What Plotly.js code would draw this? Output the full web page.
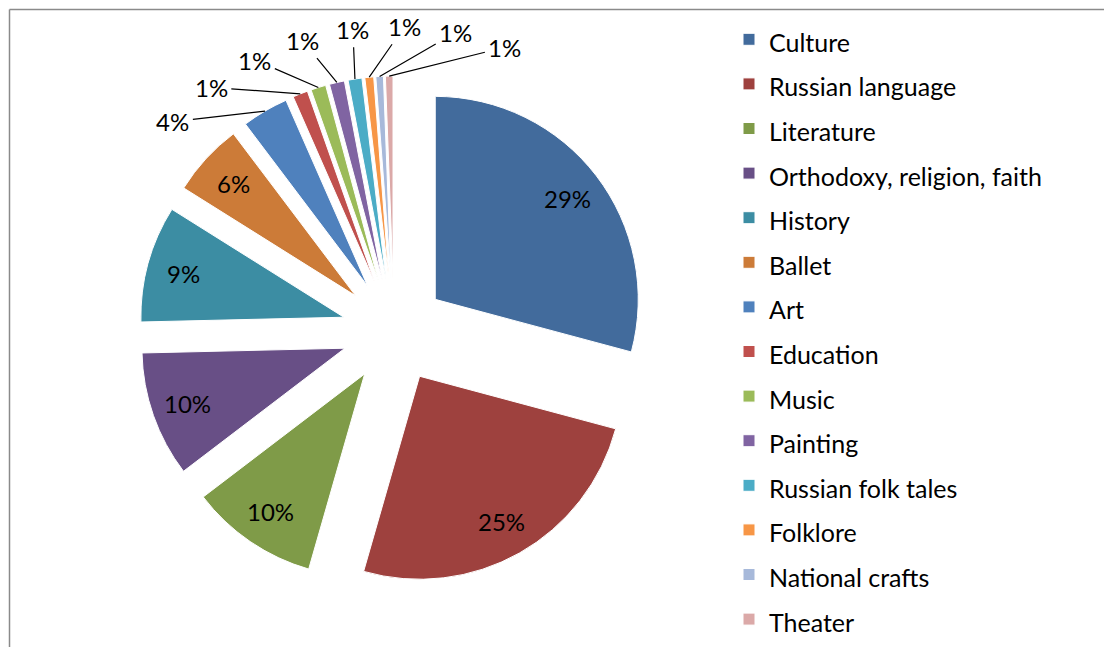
<!DOCTYPE html>
<html>
<head>
<meta charset="utf-8">
<script src="https://cdn.plot.ly/plotly-3.0.1.min.js"></script>
<style>
  html, body { margin: 0; padding: 0; background: #fff; }
  #chart { width: 1105px; height: 647px; }
</style>
</head>
<body>
<div id="chart"></div>
<script>
const categories = ["Culture", "Russian language", "Literature", "Orthodoxy, religion, faith", "History", "Ballet", "Art", "Education", "Music", "Painting", "Russian folk tales", "Folklore", "National crafts", "Theater"];
const values = [29.2, 25.3, 10.2, 10.0, 9.3, 5.8, 3.7, 1.2, 1.2, 1.2, 1.1, 0.7, 0.6, 0.6];
const colors = ["#426B9C", "#9E413E", "#7F9B48", "#684F86", "#3C8DA3", "#CC7B38", "#4F81BD", "#C0504D", "#9BBB59", "#8064A2", "#4BACC6", "#F79646", "#A7B9DA", "#DBA9A8"];

const FONT = "Lato, 'Open Sans', sans-serif";
const W = 1105, H = 647;
const pullAmount = 0.256;
const dom = { x: [139 / W, 649 / W], y: [1 - 586 / H, 1 - 76 / H] };

// geometry derived from the pie's own domain and pull (same rule Plotly uses)
const boxW = W * (dom.x[1] - dom.x[0]);
const boxH = H * (dom.y[1] - dom.y[0]);
const R = Math.min(boxW, boxH) / 2 / (1 + pullAmount);
const CX = W * (dom.x[0] + dom.x[1]) / 2;
const CY = H * (1 - (dom.y[0] + dom.y[1]) / 2);

const total = values.reduce((a, b) => a + b, 0);
const pctText = values.map(v => Math.round(v / total * 100) + '%');

// mid angle of each slice, clockwise from 12 o'clock (degrees)
const midAngles = [];
let cum = 0;
values.forEach(v => { midAngles.push((cum + v / 2) / total * 360); cum += v; });
const dirOf = a => { const t = a * Math.PI / 180; return [Math.sin(t), -Math.cos(t)]; };

const annotations = [];
const smallIdx = [];
values.forEach((v, i) => {
  if (v >= 5) {
    const [dx, dy] = dirOf(midAngles[i]);
    const k = (pullAmount + 0.82) * R;
    annotations.push({
      xref: 'paper', yref: 'paper', x: (CX + dx * k) / W, y: 1 - (CY + dy * k) / H,
      text: pctText[i], showarrow: false, xanchor: 'center', yanchor: 'middle',
      font: { family: FONT, size: 24, color: '#000' }
    });
  } else smallIdx.push(i);
});

// small slices: labels spread around their mean angle, joined by leader lines
const signed = a => (a > 180 ? a - 360 : a);
const meanA = smallIdx.reduce((s, i) => s + signed(midAngles[i]), 0) / smallIdx.length;
const spread = 9.7;
smallIdx.forEach((i, k) => {
  const [dx, dy] = dirOf(midAngles[i]);
  const ex = CX + dx * (1 + pullAmount) * R, ey = CY + dy * (1 + pullAmount) * R;
  const la = meanA + (k - (smallIdx.length - 1) / 2) * spread;
  const [lx, ly] = dirOf(la);
  const rl = 1.5 * R;
  const tx = CX + lx * rl, ty = CY + ly * rl;
  annotations.push({
    xref: 'paper', yref: 'paper', x: ex / W, y: 1 - ey / H,
    ax: tx - ex, ay: ty - ey,
    text: pctText[i], showarrow: true, arrowhead: 0, arrowwidth: 1.2, arrowcolor: '#000',
    standoff: 0, startstandoff: 2,
    font: { family: FONT, size: 24, color: '#000' }
  });
});

const legendLabels = categories.map(c => '<span style="font-size:25px">' + c + '</span>');

const trace = {
  type: 'pie',
  labels: legendLabels,
  values: values,
  sort: false,
  direction: 'clockwise',
  rotation: 0,
  pull: values.map(() => pullAmount),
  marker: { colors: colors, line: { color: '#ffffff', width: 1 } },
  textinfo: 'none',
  hoverinfo: 'label+percent',
  domain: dom,
  automargin: false
};

const layout = {
  width: W,
  height: H,
  margin: { l: 0, r: 0, t: 0, b: 0 },
  paper_bgcolor: '#ffffff',
  font: { family: FONT, color: '#000' },
  showlegend: true,
  legend: {
    x: 729 / W, xanchor: 'left',
    y: 0, yanchor: 'bottom',
    font: { family: FONT, size: 32, color: '#000' },
    bgcolor: 'rgba(0,0,0,0)'
  },
  annotations: annotations,
  shapes: [
    { type: 'line', xref: 'paper', yref: 'paper', x0: 9.5 / W, x1: 9.5 / W, y0: 0, y1: 1 - 9.5 / H, line: { color: '#8a8a8a', width: 1.5 } },
    { type: 'line', xref: 'paper', yref: 'paper', x0: 9.5 / W, x1: 1104 / W, y0: 1 - 9.5 / H, y1: 1 - 9.5 / H, line: { color: '#8a8a8a', width: 1.5 } }
  ]
};

Plotly.newPlot('chart', [trace], layout, { displayModeBar: false, staticPlot: true });
</script>
</body>
</html>
